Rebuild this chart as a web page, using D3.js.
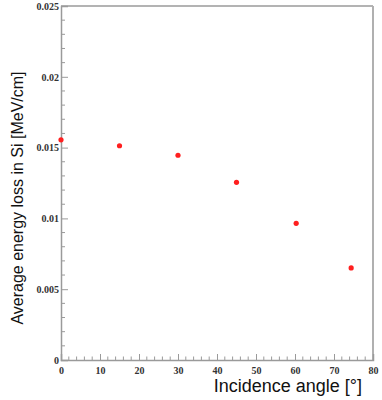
<!DOCTYPE html>
<html>
<head>
<meta charset="utf-8">
<script src="https://cdn.jsdelivr.net/npm/d3@7"></script>
<style>
  body { margin: 0; background: #fff; }
  svg { display: block; }
</style>
</head>
<body>
<svg id="chart" width="382" height="400"></svg>
<script>
// incidence angle in degrees
const angles = [0, 15, 30, 45, 60.3, 74.4];
// average energy loss in MeV/cm
const energyLoss = [0.01555, 0.01513, 0.01446, 0.01255, 0.00965, 0.0065];
const xTicks = [0, 10, 20, 30, 40, 50, 60, 70, 80];
const yTicks = [0, 0.005, 0.01, 0.015, 0.02, 0.025];

const svg = d3.select('#chart');
const plotLeft = 61, plotRight = 373, plotTop = 6, plotBottom = 360;

const x = d3.scaleLinear().domain([0, 80]).range([plotLeft, plotRight]);
const y = d3.scaleLinear().domain([0, 0.025]).range([plotBottom, plotTop]);

const axisColor = '#9a9a9a';

// frame top and right
svg.append('line')
  .attr('x1', plotLeft).attr('x2', plotRight).attr('y1', plotTop).attr('y2', plotTop)
  .style('stroke', axisColor).style('stroke-width', 1.5);
svg.append('line')
  .attr('x1', plotRight).attr('x2', plotRight).attr('y1', plotTop).attr('y2', plotBottom)
  .style('stroke', '#b0b0b0').style('stroke-width', 2);

// x axis (ticks point inward)
const xAxis = d3.axisBottom(x)
  .tickValues(xTicks)
  .tickSize(-6)
  .tickPadding(7)
  .tickFormat(d3.format('d'));
const gx = svg.append('g').attr('transform', `translate(0,${plotBottom})`).call(xAxis);

// minor x ticks every 2 deg
svg.append('g').selectAll('line')
  .data(d3.range(0, 80.1, 2).filter(d => d % 10 !== 0))
  .join('line')
  .attr('x1', d => x(d)).attr('x2', d => x(d))
  .attr('y1', plotBottom).attr('y2', plotBottom - 3.5)
  .style('stroke', axisColor).style('stroke-width', 1);

// y axis
const yAxis = d3.axisLeft(y)
  .tickValues(yTicks)
  .tickSize(-7)
  .tickPadding(2)
  .tickFormat(d => d === 0 ? '0' : String(+d.toFixed(3)));
const gy = svg.append('g').attr('transform', `translate(${plotLeft},0)`).call(yAxis);

// minor y ticks every 0.001
svg.append('g').selectAll('line')
  .data(d3.range(1, 25).filter(d => d % 5 !== 0).map(d => d / 1000))
  .join('line')
  .attr('x1', plotLeft).attr('x2', plotLeft + 4)
  .attr('y1', d => y(d)).attr('y2', d => y(d))
  .style('stroke', axisColor).style('stroke-width', 1);

[gx, gy].forEach(g => {
  g.select('.domain').style('stroke', axisColor).style('stroke-width', 1.5);
  g.selectAll('.tick line').style('stroke', axisColor).style('stroke-width', 1);
  g.selectAll('.tick text')
    .style('font-family', '"Liberation Serif", "DejaVu Serif", serif')
    .style('font-weight', 'bold')
    .style('font-size', '10px')
    .style('fill', '#333');
});
gx.selectAll('.tick text').attr('dy', '0.71em');

// data points
svg.append('g').selectAll('circle')
  .data(angles)
  .join('circle')
  .attr('cx', (d, i) => x(d))
  .attr('cy', (d, i) => y(energyLoss[i]))
  .attr('r', 2.6)
  .style('fill', '#ff1f1f');

// axis titles
svg.append('text')
  .text('Incidence angle [°]')
  .attr('x', 362)
  .attr('y', 392)
  .attr('text-anchor', 'end')
  .style('font-family', '"Liberation Sans", Arial, sans-serif')
  .style('font-size', '18px')
  .style('fill', '#111');

svg.append('text')
  .text('Average energy loss in Si [MeV/cm]')
  .attr('transform', 'translate(23,198) rotate(-90)')
  .attr('text-anchor', 'middle')
  .style('font-family', '"Liberation Sans", Arial, sans-serif')
  .style('font-size', '16px')
  .style('fill', '#111');
</script>
</body>
</html>
